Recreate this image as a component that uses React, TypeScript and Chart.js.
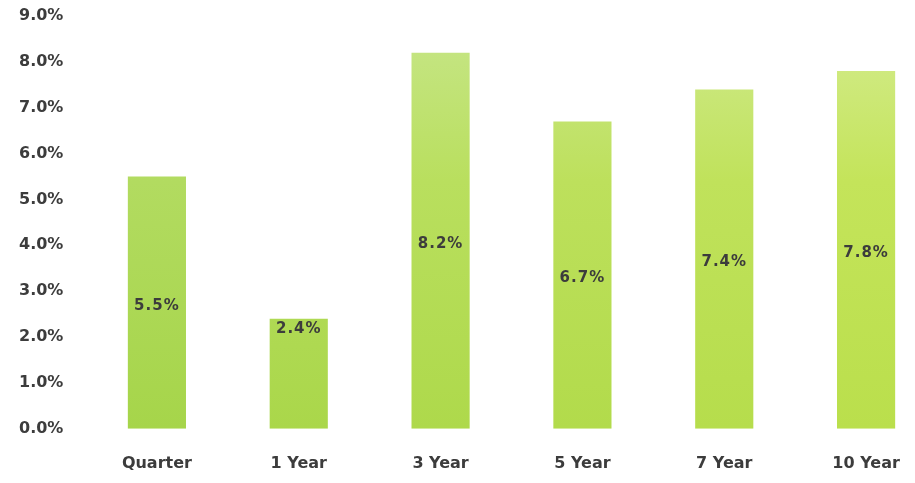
import React, { useEffect, useRef } from "react";
import { Chart, registerables } from "chart.js";

Chart.register(...registerables);

const categories = ["Quarter", "1 Year", "3 Year", "5 Year", "7 Year", "10 Year"];
const returns = [5.5, 2.4, 8.2, 6.7, 7.4, 7.8];
const yTicks = [0, 1, 2, 3, 4, 5, 6, 7, 8, 9];

const FONT = "'DejaVu Sans', 'Noto Sans', sans-serif";
const TEXT = "#3c3c3c";

function mix(a: number[], b: number[], t: number) {
  const c = a.map((v, i) => Math.round(v + (b[i] - v) * t));
  return `rgb(${c[0]},${c[1]},${c[2]})`;
}

const barLabels = {
  id: "barLabels",
  afterDatasetsDraw(chart: any) {
    const ctx = chart.ctx;
    const meta = chart.getDatasetMeta(0);
    ctx.save();
    ctx.font = `bold 15px ${FONT}`;
    (ctx as any).letterSpacing = "1px";
    ctx.fillStyle = TEXT;
    ctx.textAlign = "center";
    ctx.textBaseline = "middle";
    meta.data.forEach((bar: any, i: number) => {
      const h = bar.base - bar.y;
      const y = h < 130 ? bar.y + 10 : (bar.y + bar.base) / 2 + 3;
      ctx.fillText(returns[i].toFixed(1) + "%", bar.x, y);
    });
    ctx.restore();
  },
};

export default function App() {
  const ref = useRef<HTMLCanvasElement | null>(null);
  useEffect(() => {
    document.body.style.margin = "0";
    if (!ref.current) return;
    const chart = new Chart(ref.current, {
      type: "bar",
      data: {
        labels: categories,
        datasets: [
          {
            data: returns,
            backgroundColor: (c: any) => {
              const area = c.chart.chartArea;
              if (!area) return "#aed55a";
              const t = (c.dataIndex || 0) / (categories.length - 1);
              const g = c.chart.ctx.createLinearGradient(0, area.top, 0, area.bottom);
              g.addColorStop(0, mix([190, 226, 132], [212, 236, 144], t));
              g.addColorStop(0.4, mix([178, 219, 96], [196, 228, 90], t));
              g.addColorStop(1, mix([166, 213, 74], [186, 223, 76], t));
              return g;
            },
            borderWidth: 0,
            categoryPercentage: 1,
            barPercentage: 0.41,
          },
        ],
      },
      options: {
        animation: false,
        responsive: false,
        maintainAspectRatio: false,
        layout: { padding: { top: 16, right: 0, bottom: -15, left: 19 } },
        plugins: { legend: { display: false }, tooltip: { enabled: false } },
        scales: {
          x: {
            grid: { display: false, drawTicks: false },
            border: { display: false },
            ticks: {
              color: TEXT,
              font: { family: FONT, size: 16, weight: "bold" },
              padding: 25,
              maxRotation: 0,
            },
          },
          y: {
            min: 0,
            max: 9,
            afterBuildTicks: (axis: any) => {
              axis.ticks = yTicks.map((v) => ({ value: v }));
            },
            afterFit: (axis: any) => {
              axis.width = 67;
            },
            grid: { display: false, drawTicks: false },
            border: { display: false },
            ticks: {
              color: TEXT,
              font: { family: FONT, size: 16, weight: "bold" },
              padding: 2,
              crossAlign: "far",
              callback: (v: any) => Number(v).toFixed(1) + "%",
            },
          },
        },
      },
      plugins: [barLabels],
    });
    return () => chart.destroy();
  }, []);
  return (
    <div style={{ position: "relative", width: 915, height: 483, overflow: "hidden", background: "#fff" }}>
      <canvas ref={ref} width={937} height={483} style={{ display: "block" }} />
    </div>
  );
}
